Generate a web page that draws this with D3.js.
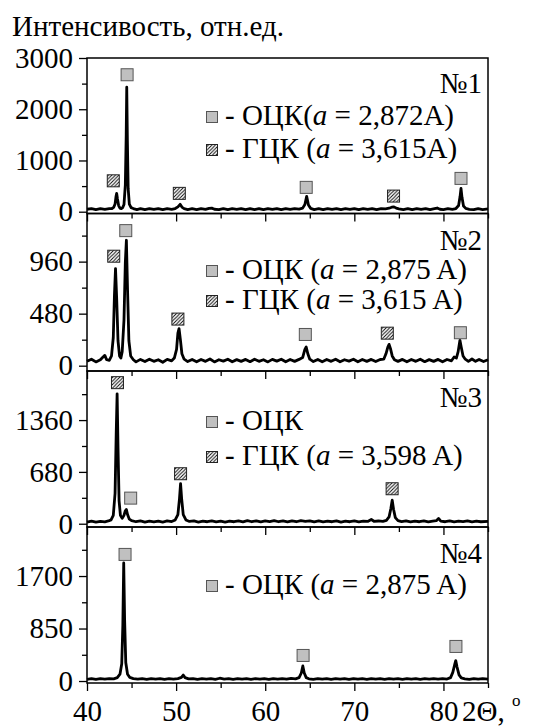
<!DOCTYPE html>
<html>
<head>
<meta charset="utf-8">
<script src="https://cdn.jsdelivr.net/npm/d3@7"></script>
</head>
<body style="margin:0">
<svg id="chart" width="537" height="726"></svg>
<script>
// ---- data: [2theta, intensity] ----
var scan1 = [[40.0,48],[40.5,62],[41.0,40],[41.5,58],[42.0,44],[42.5,60],[42.8,62],[43.0,85],[43.15,150],[43.25,290],[43.33,358],[43.42,250],[43.55,120],[43.7,70],[43.85,60],[44.0,80],[44.15,140],[44.3,520],[44.4,1500],[44.46,2430],[44.53,1400],[44.62,450],[44.75,150],[44.95,80],[45.2,62],[45.6,42],[46.0,62],[46.5,40],[47.0,60],[47.5,44],[48.0,62],[48.5,40],[49.0,58],[49.5,46],[49.9,62],[50.2,95],[50.45,144],[50.65,90],[50.9,60],[51.3,42],[51.8,60],[52.3,40],[52.8,62],[53.3,44],[53.7,66],[54.0,70],[54.3,48],[54.8,40],[55.3,62],[55.8,40],[56.3,58],[56.8,44],[57.3,62],[57.8,40],[58.3,60],[58.8,42],[59.3,62],[59.8,40],[60.3,58],[60.8,44],[61.3,62],[61.8,40],[62.3,60],[62.8,44],[63.3,62],[63.8,52],[64.2,70],[64.45,140],[64.65,300],[64.85,130],[65.1,65],[65.5,42],[66.0,62],[66.5,40],[67.0,60],[67.5,44],[68.0,62],[68.5,40],[69.0,58],[69.5,44],[70.0,62],[70.5,40],[71.0,60],[71.5,44],[72.0,62],[72.5,40],[73.0,58],[73.5,55],[73.9,68],[74.2,88],[74.45,95],[74.7,70],[75.0,55],[75.5,42],[76.0,62],[76.5,40],[77.0,60],[77.5,44],[78.0,62],[78.5,40],[79.0,60],[79.3,72],[79.6,48],[80.0,42],[80.5,60],[81.0,46],[81.4,62],[81.7,120],[81.87,300],[81.97,455],[82.08,280],[82.25,110],[82.5,65],[82.9,46],[83.4,40],[83.9,60],[84.4,42],[85.0,56]];

var scan2 = [[40.0,40],[40.5,60],[41.0,35],[41.5,55],[41.8,80],[42.0,95],[42.2,55],[42.5,50],[42.75,90],[42.95,260],[43.08,650],[43.2,895],[43.33,620],[43.48,230],[43.65,90],[43.8,70],[43.95,130],[44.15,420],[44.3,950],[44.42,1157],[44.55,700],[44.7,230],[44.9,90],[45.2,55],[45.5,35],[46.0,58],[46.5,38],[47.0,60],[47.5,40],[48.0,55],[48.5,32],[49.0,58],[49.5,45],[49.8,70],[50.05,150],[50.2,300],[50.33,342],[50.48,240],[50.65,110],[50.9,60],[51.3,38],[51.8,58],[52.3,36],[52.8,57],[53.3,40],[53.8,62],[54.3,35],[54.8,55],[55.3,42],[55.8,60],[56.3,36],[56.8,56],[57.3,40],[57.8,58],[58.3,37],[58.8,60],[59.3,40],[59.8,55],[60.3,35],[60.8,58],[61.3,42],[61.8,60],[62.3,36],[62.8,57],[63.3,40],[63.8,58],[64.2,75],[64.45,150],[64.6,172],[64.78,110],[65.0,60],[65.4,38],[65.9,58],[66.4,36],[66.9,57],[67.4,40],[67.9,60],[68.4,36],[68.9,55],[69.4,42],[69.9,60],[70.4,36],[70.9,57],[71.4,40],[71.9,58],[72.4,38],[72.9,57],[73.3,60],[73.55,110],[73.75,170],[73.9,197],[74.05,160],[74.25,90],[74.5,55],[74.9,40],[75.4,58],[75.9,36],[76.4,57],[76.9,40],[77.4,60],[77.9,37],[78.4,56],[78.9,40],[79.4,58],[79.9,36],[80.4,57],[80.9,45],[81.2,80],[81.45,70],[81.65,130],[81.85,234],[82.0,170],[82.2,90],[82.45,60],[82.8,40],[83.2,62],[83.6,40],[84.0,58],[84.5,38],[85.0,55]];

var scan3 = [[40.0,22],[40.5,34],[41.0,20],[41.5,32],[42.0,24],[42.4,36],[42.7,50],[42.95,110],[43.15,400],[43.28,1200],[43.38,1704],[43.48,1000],[43.6,300],[43.75,110],[43.95,70],[44.15,110],[44.3,170],[44.42,187],[44.55,120],[44.75,60],[45.0,40],[45.5,26],[46.0,36],[46.5,22],[47.0,34],[47.5,24],[48.0,35],[48.5,22],[49.0,36],[49.5,28],[49.9,50],[50.2,120],[50.38,330],[50.5,527],[50.62,330],[50.8,120],[51.1,50],[51.5,30],[52.0,36],[52.5,22],[53.0,34],[53.5,26],[54.0,36],[54.5,24],[55.0,35],[55.5,22],[56.0,34],[56.5,26],[57.0,36],[57.5,24],[58.0,40],[58.5,26],[59.0,38],[59.5,24],[60.0,36],[60.5,28],[61.0,40],[61.5,26],[62.0,36],[62.5,24],[63.0,38],[63.5,26],[64.0,40],[64.5,32],[65.0,38],[65.5,24],[66.0,36],[66.5,24],[67.0,34],[67.5,26],[68.0,36],[68.5,22],[69.0,34],[69.5,26],[70.0,36],[70.5,24],[71.0,34],[71.5,30],[71.9,55],[72.2,32],[72.7,36],[73.2,30],[73.6,45],[73.9,90],[74.1,200],[74.25,309],[74.4,190],[74.6,80],[74.9,40],[75.3,28],[75.8,36],[76.3,24],[76.8,34],[77.3,26],[77.8,36],[78.3,24],[78.8,34],[79.2,40],[79.45,70],[79.7,34],[80.2,26],[80.7,36],[81.2,24],[81.7,34],[82.2,28],[82.7,36],[83.2,24],[83.7,34],[84.2,26],[85.0,32]];

var scan4 = [[40.0,28],[40.5,40],[41.0,26],[41.5,38],[42.0,30],[42.5,40],[43.0,36],[43.4,55],[43.7,110],[43.9,280],[44.02,900],[44.12,1911],[44.22,1000],[44.35,300],[44.55,110],[44.8,60],[45.2,40],[45.7,30],[46.2,40],[46.7,28],[47.2,38],[47.7,30],[48.2,40],[48.7,28],[49.2,38],[49.7,32],[50.2,40],[50.6,60],[50.8,97],[51.0,55],[51.4,34],[51.9,40],[52.4,28],[52.9,38],[53.4,30],[53.9,40],[54.4,28],[54.9,45],[55.4,30],[55.9,38],[56.4,28],[56.9,40],[57.4,30],[57.9,38],[58.4,28],[58.9,40],[59.4,30],[59.9,38],[60.4,28],[60.9,40],[61.4,30],[61.9,38],[62.4,30],[62.9,42],[63.4,35],[63.8,55],[64.05,130],[64.22,244],[64.38,130],[64.6,55],[64.9,36],[65.4,28],[65.9,40],[66.4,30],[66.9,38],[67.4,28],[67.9,40],[68.4,30],[68.9,38],[69.4,28],[69.9,40],[70.4,30],[70.9,38],[71.4,28],[71.9,40],[72.4,30],[72.9,38],[73.4,28],[73.9,40],[74.4,30],[74.9,38],[75.4,28],[75.9,40],[76.4,30],[76.9,38],[77.4,28],[77.9,40],[78.4,30],[78.9,38],[79.4,30],[79.9,40],[80.4,32],[80.8,55],[81.05,140],[81.25,260],[81.38,330],[81.52,230],[81.75,100],[82.0,50],[82.4,36],[82.9,28],[83.4,40],[83.9,30],[84.4,38],[85.0,30]];

// phase markers: [phase, 2theta, intensity at marker centre]
var marks1 = [["fcc",42.95,603],["bcc",44.5,2673],["fcc",50.36,358],["bcc",64.6,475],["fcc",74.4,305],["bcc",81.97,650]];
var marks2 = [["fcc",43.0,1010],["bcc",44.35,1246],["fcc",50.2,430],["bcc",64.5,288],["fcc",73.7,300],["bcc",81.9,304]];
var marks3 = [["fcc",43.42,1851],["bcc",44.9,336],["fcc",50.5,656],["fcc",74.24,459]];
var marks4 = [["bcc",44.27,2050],["bcc",64.25,414],["bcc",81.4,560]];

// y ticks per panel
var yMajor = [[0,1000,2000,3000],[0,480,960],[0,680,1360],[0,850,1700]];
var yMinor = [[500,1500,2500],[240,720,1200],[340,1020,1700],[425,1275,2125]];
var yDomain = [[-35,3000],[-49,1404],[-43,2004],[-32,2494]];

var xMajor = [40,50,60,70,80];
var xMinor = [45,55,65,75,85];

var sampleNames = ["№1","№2","№3","№4"];
// legend rows: [phase, text before italic a, italic, text after]
var legends = [
  [["bcc","- ОЦК(","a"," = 2,872A)"],["fcc","- ГЦК (","a"," = 3,615A)"]],
  [["bcc","- ОЦК (","a"," = 2,875 A)"],["fcc","- ГЦК (","a"," = 3,615 A)"]],
  [["bcc","- ОЦК","",""],["fcc","- ГЦК (","a"," = 3,598 A)"]],
  [["bcc","- ОЦК (","a"," = 2,875 A)"]]
];

var scans = [scan1, scan2, scan3, scan4];
var marks = [marks1, marks2, marks3, marks4];

// ---- layout ----
var svg = d3.select("#chart");
var left = 87, right = 488;
var panelTop = [58, 213.5, 371, 527];
var panelBot = [213.5, 371, 527, 683];
var nameY = [93, 250, 407, 563];
var rowY = [[125, 158], [279, 309], [430, 465], [594]];

var defs = svg.append("defs");
var hatch = defs.append("pattern")
    .attr("id", "hatch")
    .attr("patternUnits", "userSpaceOnUse")
    .attr("width", 3.5).attr("height", 3.5);
hatch.append("rect").attr("width", 3.5).attr("height", 3.5).attr("fill", "#fff");
hatch.append("path")
    .attr("d", "M-1,1 l2,-2 M0,3.5 l3.5,-3.5 M2.5,4.5 l2,-2")
    .attr("stroke", "#000").attr("stroke-width", 0.9);

var x = d3.scaleLinear().domain([40, 85]).range([left, right]);

function square(g, phase, cx, cy, s) {
  g.append("rect")
    .attr("x", cx - s / 2).attr("y", cy - s / 2)
    .attr("width", s).attr("height", s)
    .attr("fill", phase === "bcc" ? "#c0c0c0" : "url(#hatch)")
    .attr("stroke", phase === "bcc" ? "#555" : "#222")
    .attr("stroke-width", 1);
}

function label(sel) {
  return sel.style("font-family", "'Liberation Serif', monospace")
    .style("font-size", "29px");
}

for (let i = 0; i < 4; i++) {
  let y = d3.scaleLinear().domain(yDomain[i]).range([panelBot[i], panelTop[i]]);
  let g = svg.append("g");

  // data line
  g.append("path")
    .datum(scans[i])
    .attr("fill", "none")
    .attr("stroke", "#000")
    .attr("stroke-width", 2.8)
    .attr("stroke-linejoin", "round")
    .attr("d", d3.line().x(d => x(d[0])).y(d => y(d[1])));

  // peak markers
  marks[i].forEach(function(m) { square(g, m[0], x(m[1]), y(m[2]), 12); });

  // frame
  g.append("rect")
    .attr("x", left).attr("y", panelTop[i])
    .attr("width", right - left).attr("height", panelBot[i] - panelTop[i])
    .attr("fill", "none").attr("stroke", "#000").attr("stroke-width", 1.5);

  // y axis
  let ya = g.append("g").attr("transform", "translate(" + left + ",0)")
    .call(d3.axisLeft(y).tickValues(yMajor[i]).tickSize(8).tickPadding(6).tickFormat(d3.format("d")));
  g.append("g").attr("transform", "translate(" + left + ",0)")
    .call(d3.axisLeft(y).tickValues(yMinor[i]).tickSize(5).tickFormat(""));

  // x axis at the bottom of each panel
  let xa = g.append("g").attr("transform", "translate(0," + panelBot[i] + ")")
    .call(d3.axisBottom(x).tickValues(xMajor).tickSize(8).tickPadding(9)
      .tickFormat(i === 3 ? d3.format("d") : ""));
  g.append("g").attr("transform", "translate(0," + panelBot[i] + ")")
    .call(d3.axisBottom(x).tickValues(xMinor).tickSize(5).tickFormat(""));

  // sample name
  g.append("text")
    .attr("x", 482).attr("y", nameY[i])
    .attr("text-anchor", "end")
    .text(sampleNames[i]);

  // legend
  legends[i].forEach(function(r, k) {
    let by = rowY[i][k];
    square(g, r[0], 212, by - 8, 11);
    let t = g.append("text").attr("x", 225).attr("y", by);
    t.append("tspan").text(r[1]);
    if (r[2]) {
      t.append("tspan").attr("font-style", "italic").text(r[2]);
      t.append("tspan").text(r[3]);
    }
  });
}

svg.selectAll(".domain").remove();
svg.selectAll(".tick line").attr("stroke", "#000").attr("stroke-width", 1.3);
svg.selectAll(".tick text").attr("fill", "#000");

// axis titles
svg.append("text")
  .attr("x", 12).attr("y", 36)
  .text("Интенсивость, отн.ед.");

var xt = svg.append("text").attr("x", 462).attr("y", 721);
xt.append("tspan").text("2Θ, ");
xt.append("tspan").attr("font-size", 17).attr("dy", -15).text("o");

svg.selectAll("text").call(label);
</script>
</body>
</html>
